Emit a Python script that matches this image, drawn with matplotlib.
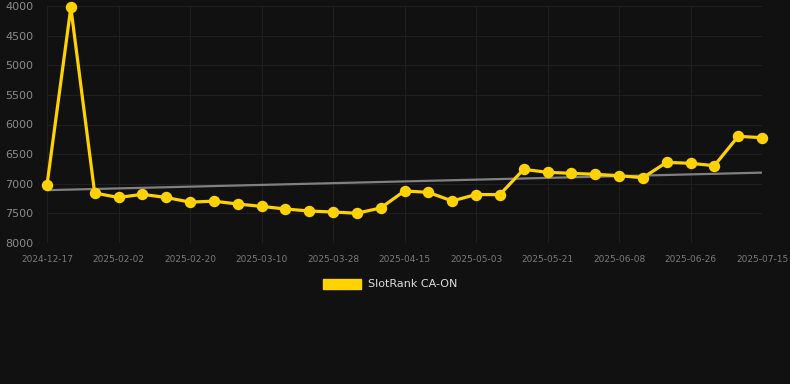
import matplotlib
matplotlib.use("Agg")
import matplotlib.pyplot as plt
import numpy as np
from matplotlib.patches import Patch

dates = ["2024-12-17", "2025-01-02", "2025-01-18", "2025-02-02", "2025-02-08", "2025-02-14",
         "2025-02-20", "2025-02-26", "2025-03-04", "2025-03-10", "2025-03-16", "2025-03-22",
         "2025-03-28", "2025-04-03", "2025-04-09", "2025-04-15", "2025-04-21", "2025-04-27",
         "2025-05-03", "2025-05-09", "2025-05-15", "2025-05-21", "2025-05-27", "2025-06-02",
         "2025-06-08", "2025-06-14", "2025-06-20", "2025-06-26", "2025-07-03", "2025-07-09",
         "2025-07-15"]
ranks = [7021, 4025, 7156, 7232, 7178, 7232, 7310, 7294, 7342, 7382, 7426, 7460, 7477, 7498,
         7409, 7122, 7145, 7291, 7182, 7184, 6757, 6807, 6824, 6841, 6864, 6898, 6639, 6655,
         6695, 6200, 6222]
yticks = [4000, 4500, 5000, 5500, 6000, 6500, 7000, 7500, 8000]
series_name = "SlotRank CA-ON"

bg = "#111111"
gold = "#FFD200"
W, H = 790, 384
fig = plt.figure(figsize=(W / 100, H / 100), dpi=100, facecolor=bg)
ax = fig.add_axes([47 / W, 1 - 243 / H, (762 - 47) / W, (243 - 6) / H], facecolor=bg)

x = np.arange(len(dates))
y = np.array(ranks, dtype=float)

# trend line (linear regression)
coef = np.polyfit(x, y, 1)
ax.plot([x[0], x[-1]], np.polyval(coef, [x[0], x[-1]]), color="#808080", lw=1.6, zorder=2)

ax.plot(x, y, color=gold, lw=2.3, marker="o", markersize=7.2, markerfacecolor=gold,
        markeredgecolor=gold, zorder=3, clip_on=False)

ax.set_xlim(x[0], x[-1])
ax.set_ylim(8000, 4000)
ax.set_yticks(yticks)
ax.set_yticklabels([str(v) for v in yticks])
tick_idx = list(range(0, len(dates), 3))
ax.set_xticks(tick_idx)
ax.set_xticklabels([dates[i] for i in tick_idx])

ax.grid(True, color="#1f1f1f", lw=0.8, zorder=0)
for s in ax.spines.values():
    s.set_visible(False)
ax.tick_params(axis="y", length=0, pad=10, labelsize=8, labelcolor="#8a8a8a")
ax.tick_params(axis="x", length=0, pad=9, labelsize=6.5, labelcolor="#7a7a7a")

leg = fig.legend(handles=[Patch(facecolor=gold, edgecolor=gold, label=series_name)],
                 loc="center", bbox_to_anchor=(390 / W, 1 - 284 / H), frameon=False,
                 handlelength=3.4, handleheight=1.0, handletextpad=0.6, fontsize=8)
for t in leg.get_texts():
    t.set_color("#dddddd")

fig.savefig("out.png", dpi=100, facecolor=bg)
